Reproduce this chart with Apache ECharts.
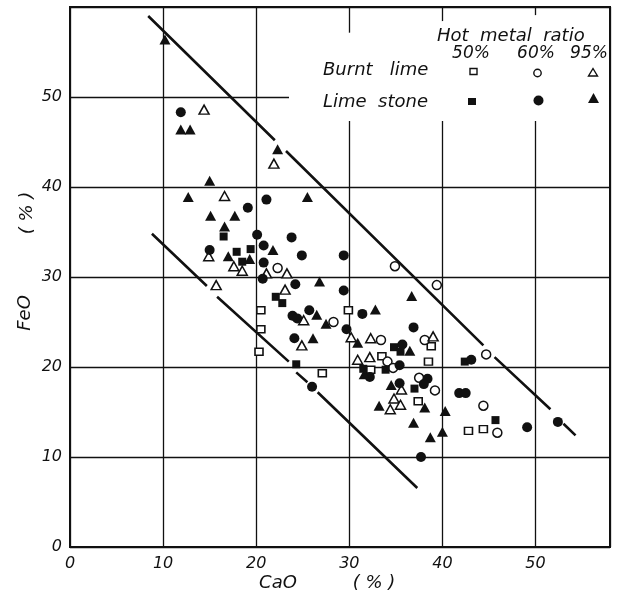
<!DOCTYPE html>
<html>
<head>
<meta charset="utf-8">
<script src="https://cdn.jsdelivr.net/npm/echarts@6/dist/echarts.min.js"></script>
<style>html,body{margin:0;padding:0;background:#fff}#c{width:639px;height:596px}</style>
</head>
<body>
<div id="c"></div>
<script>
// ---- data (CaO %, FeO %) ----
const xTicks = [0, 10, 20, 30, 40, 50];
const yTicks = [0, 10, 20, 30, 40, 50];

const burnt50 = [[20.5,26.3],[29.9,26.3],[20.5,24.2],[20.3,21.7],[27.1,19.3],[38.8,22.3],[33.5,21.2],[38.5,20.6],[32.3,19.7],[37.4,16.2],[42.8,12.9],[44.4,13.1]];
const burnt60 = [[22.3,31.0],[34.9,31.2],[39.4,29.1],[28.3,25.0],[33.4,23.0],[38.1,23.0],[34.1,20.6],[34.7,19.9],[37.5,18.8],[39.2,17.4],[44.7,21.4],[44.4,15.7],[45.9,12.7]];
const burnt95 = [[14.4,48.6],[21.9,42.6],[16.6,39.0],[14.9,32.3],[17.6,31.2],[18.5,30.7],[21.1,30.4],[23.3,30.4],[15.7,29.1],[23.1,28.6],[25.1,25.2],[24.9,22.4],[30.2,23.3],[32.3,23.2],[39.0,23.4],[30.9,20.8],[32.2,21.1],[35.6,17.5],[34.8,16.5],[35.5,15.8],[34.4,15.3]];

const stone50 = [[16.5,34.5],[17.9,32.8],[19.4,33.1],[18.5,31.7],[22.1,27.8],[22.8,27.1],[24.3,20.3],[34.8,22.2],[35.5,21.7],[31.5,19.8],[33.9,19.7],[37.0,17.6],[42.4,20.6],[45.7,14.1]];
const stone60 = [[11.9,48.3],[21.1,38.6],[19.1,37.7],[20.1,34.7],[23.8,34.4],[15.0,33.0],[20.8,33.5],[24.9,32.4],[29.4,32.4],[20.8,31.6],[20.7,29.8],[24.2,29.2],[29.4,28.5],[23.9,25.7],[24.4,25.4],[25.7,26.3],[31.4,25.9],[29.7,24.2],[24.1,23.2],[36.9,24.4],[35.7,22.5],[26.0,17.8],[35.4,20.2],[32.2,18.9],[38.4,18.7],[38.0,18.1],[35.4,18.2],[43.1,20.8],[41.8,17.1],[42.5,17.1],[37.7,10.0],[49.1,13.3],[52.4,13.9]];
const stone95 = [[10.2,56.4],[11.9,46.4],[12.9,46.4],[22.3,44.2],[15.0,40.7],[12.7,38.9],[25.5,38.9],[15.1,36.8],[17.7,36.8],[16.6,35.6],[17.0,32.3],[19.3,32.0],[21.8,33.0],[26.8,29.5],[26.5,25.8],[27.5,24.8],[26.1,23.2],[36.7,27.9],[32.8,26.4],[30.9,22.7],[36.5,21.8],[31.6,19.2],[34.5,18.0],[33.2,15.7],[38.1,15.5],[40.3,15.1],[36.9,13.8],[38.7,12.2],[40.0,12.8]];

// boundary lines (drawn broken where they pass markers)
const upperLine = [[8.4,59.0],[22.0,45.2],null,[23.2,44.0],[44.4,22.4],null,[45.6,21.1],[51.6,15.3],null,[53.0,13.7],[54.3,12.4]];
const lowerLine = [[8.8,34.8],[14.7,29.0],null,[15.8,27.8],[23.5,20.6],null,[24.3,19.4],[25.5,18.3],null,[26.6,17.2],[37.3,6.55]];

// ---- chart ----
const INK = '#111';
const FONT = 'DejaVu Sans';
const chart = echarts.init(document.getElementById('c'));

function lineData(arr){ return arr.map(p => p === null ? [null, null] : p); }
function openStyle(){ return {color:'#fff', borderColor:INK, borderWidth:1.5, opacity:1}; }
function fillStyle(){ return {color:INK, borderColor:INK, borderWidth:0, opacity:1}; }
const lab = v => (xTicks.indexOf(v) >= 0 ? String(v) : '');
const labY = v => (yTicks.indexOf(v) >= 0 ? String(v) : '');

const option = {
  animation: false,
  backgroundColor: '#fff',
  grid: {left: 70, right: 29, top: 7, bottom: 49, show: true, borderColor: INK, borderWidth: 2, backgroundColor: 'transparent'},
  xAxis: {
    type: 'value', min: 0, max: 58, interval: 10,
    axisLine: {show: false}, axisTick: {show: false},
    splitLine: {show: true, lineStyle: {color: INK, width: 1.3}},
    axisLabel: {formatter: lab, fontFamily: FONT, fontStyle: 'italic', fontSize: 16, color: INK, margin: 9}
  },
  yAxis: {
    type: 'value', min: 0, max: 60, interval: 10,
    axisLine: {show: false}, axisTick: {show: false},
    splitLine: {show: true, lineStyle: {color: INK, width: 1.3}},
    axisLabel: {formatter: labY, fontFamily: FONT, fontStyle: 'italic', fontSize: 16, color: INK, margin: 8}
  },
  series: [
    {type:'line', data: lineData(upperLine), connectNulls:false, symbol:'none', lineStyle:{color:INK, width:2.6}, z:1, silent:true},
    {type:'line', data: lineData(lowerLine), connectNulls:false, symbol:'none', lineStyle:{color:INK, width:2.6}, z:1, silent:true},
    {name:'Burnt lime 50%', type:'scatter', data: burnt50, symbol:'rect', symbolSize:[8,7], itemStyle: openStyle(), z:3},
    {name:'Burnt lime 60%', type:'scatter', data: burnt60, symbol:'circle', symbolSize:9, itemStyle: openStyle(), z:3},
    {name:'Burnt lime 95%', type:'scatter', data: burnt95, symbol:'triangle', symbolSize:[10,9], itemStyle: openStyle(), z:3},
    {name:'Lime stone 50%', type:'scatter', data: stone50, symbol:'rect', symbolSize:8, itemStyle: fillStyle(), z:4},
    {name:'Lime stone 60%', type:'scatter', data: stone60, symbol:'circle', symbolSize:10, itemStyle: fillStyle(), z:4},
    {name:'Lime stone 95%', type:'scatter', data: stone95, symbol:'triangle', symbolSize:[11,10], itemStyle: fillStyle(), z:4}
  ],
  graphic: [
    // white legend panel masking the grid
    {type:'polygon', shape:{points:[[289,38],[380,30],[443,21],[537,15],[609,15],[609,121],[289,121]]}, style:{fill:'#fff'}, z:50, silent:true},
    {type:'text', x:437, y:36, z:51, style:{text:'Hot  metal  ratio', font:'italic 18px "DejaVu Sans"', fill:INK, textVerticalAlign:'middle'}},
    {type:'text', x:471, y:54, z:51, style:{text:'50%', font:'italic 17px "DejaVu Sans"', fill:INK, textAlign:'center', textVerticalAlign:'middle'}},
    {type:'text', x:536, y:54, z:51, style:{text:'60%', font:'italic 17px "DejaVu Sans"', fill:INK, textAlign:'center', textVerticalAlign:'middle'}},
    {type:'text', x:589, y:54, z:51, style:{text:'95%', font:'italic 17px "DejaVu Sans"', fill:INK, textAlign:'center', textVerticalAlign:'middle'}},
    {type:'text', x:323, y:70, z:51, style:{text:'Burnt   lime', font:'italic 18px "DejaVu Sans"', fill:INK, textVerticalAlign:'middle'}},
    {type:'text', x:323, y:102, z:51, style:{text:'Lime  stone', font:'italic 18px "DejaVu Sans"', fill:INK, textVerticalAlign:'middle'}},
    {type:'rect', shape:{x:470, y:68.5, width:7, height:6}, style:{fill:'#fff', stroke:INK, lineWidth:1.4}, z:51},
    {type:'circle', shape:{cx:537.5, cy:73, r:3.7}, style:{fill:'#fff', stroke:INK, lineWidth:1.4}, z:51},
    {type:'polygon', shape:{points:[[593,68.5],[597.5,76],[588.5,76]]}, style:{fill:'#fff', stroke:INK, lineWidth:1.4}, z:51},
    {type:'rect', shape:{x:468, y:98, width:8, height:7}, style:{fill:INK}, z:51},
    {type:'circle', shape:{cx:538.5, cy:100.5, r:5}, style:{fill:INK}, z:51},
    {type:'polygon', shape:{points:[[593.5,93],[599,103],[588,103]]}, style:{fill:INK}, z:51},
    // axis names
    {type:'text', x:278, y:583, z:51, style:{text:'CaO', font:'italic 18px "DejaVu Sans"', fill:INK, textAlign:'center', textVerticalAlign:'middle'}},
    {type:'text', x:374, y:583, z:51, style:{text:'( % )', font:'italic 18px "DejaVu Sans"', fill:INK, textAlign:'center', textVerticalAlign:'middle'}},
    {type:'text', x:25, y:313, rotation:Math.PI/2, z:51, style:{text:'FeO', font:'italic 18px "DejaVu Sans"', fill:INK, textAlign:'center', textVerticalAlign:'middle'}},
    {type:'text', x:27, y:213, rotation:Math.PI/2, z:51, style:{text:'( % )', font:'italic 18px "DejaVu Sans"', fill:INK, textAlign:'center', textVerticalAlign:'middle'}}
  ]
};
chart.setOption(option);
</script>
</body>
</html>
